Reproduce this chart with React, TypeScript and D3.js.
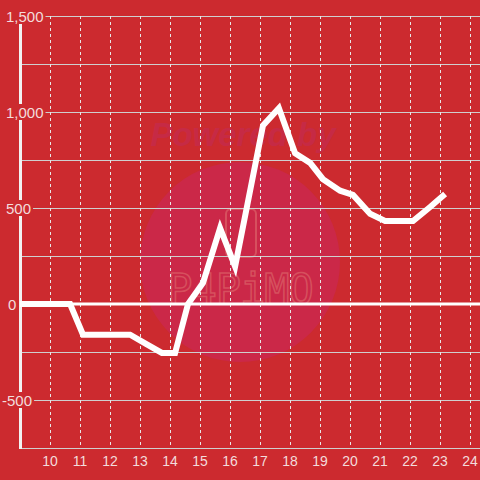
import React from "react";
import * as d3 from "d3";

const xValues = [9, 9.5, 10, 10.67, 11.1, 11.6, 12.1, 12.67, 13.2, 13.73, 14.17, 14.6, 15.1, 15.67, 16.17, 16.67, 17.1, 17.63, 18.17, 18.67, 19.1, 19.67, 20.1, 20.67, 21.17, 21.67, 22.1, 22.67, 23.17];
const yValues = [0, 0, 0, 0, -160, -160, -160, -160, -208, -255, -255, 0, 110, 395, 195, 590, 930, 1020, 785, 735, 650, 590, 568, 470, 432, 432, 432, 505, 573];
const xTicks = [10, 11, 12, 13, 14, 15, 16, 17, 18, 19, 20, 21, 22, 23, 24];
const yGrid = [-750, -500, -250, 0, 250, 500, 750, 1000, 1250, 1500];
const yLabels = [-500, 0, 500, 1000, 1500];

const W = 480;
const H = 480;
const BG = "#cc2a2f";

export default function App() {
  const x = d3.scaleLinear().domain([9, 24.333]).range([20, 480]);
  const y = d3.scaleLinear().domain([-750, 1500]).range([448, 16]);
  const line = d3
    .line<number>()
    .x((_, i) => x(xValues[i]))
    .y((d) => y(d));
  const fmt = d3.format(",");
  const labelX = (v: number) => (v < 0 ? 2 : v === 0 ? 8 : 6);

  return (
    <svg
      width={W}
      height={H}
      style={{ position: "absolute", left: 0, top: 0, display: "block" }}
      fontFamily="'Liberation Sans', Arial, sans-serif"
    >
      <rect x={0} y={0} width={W} height={H} fill={BG} />
      {/* watermark */}
      <g>
        <circle cx={240} cy={262} r={100} fill="#cb2848" />
        <text x={243} y={146} textAnchor="middle" fontSize={33} fontWeight="bold" fontStyle="italic" fill="#c62a45">
          Powered by
        </text>
        <rect x={226} y={209} width={30} height={48} rx={5} fill="none" stroke="#d6505e" strokeWidth={2} />
        <text x={240} y={304} textAnchor="middle" fontSize={42} fontFamily="'DejaVu Sans Mono', monospace" fill="none" stroke="#d6505e" strokeWidth={1.5} letterSpacing={-1}>
          P4PiMO
        </text>
      </g>
      {/* horizontal grid */}
      {yGrid.map((v) => (
        <line key={"h" + v} x1={20} x2={480} y1={Math.round(y(v)) + 0.5} y2={Math.round(y(v)) + 0.5} stroke="#cfcfcf" strokeWidth={1} />
      ))}
      {/* vertical dashed grid */}
      {xTicks.map((t) => (
        <line key={"v" + t} x1={Math.round(x(t)) + 0.5} x2={Math.round(x(t)) + 0.5} y1={16} y2={448} stroke="#e8e8e8" strokeWidth={1} strokeDasharray="3,3" />
      ))}
      {/* zero line */}
      <line x1={20} x2={480} y1={y(0)} y2={y(0)} stroke="#ffffff" strokeWidth={3} />
      {/* y axis */}
      <line x1={20.5} x2={20.5} y1={16} y2={449} stroke="#f2f2f2" strokeWidth={3} />
      {/* data line */}
      <path d={line(yValues) || ""} fill="none" stroke="#ffffff" strokeWidth={6} strokeLinejoin="miter" />
      {/* y labels with background */}
      {yLabels.map((v) => {
        const s = fmt(v).replace("−", "-");
        const w = s.length * 8.34 - (s.includes(",") ? 4.2 : 0) - (s.startsWith("-") ? 3.3 : 0);
        return (
          <g key={"yl" + v}>
            <rect x={labelX(v) - 1} y={y(v) - 8} width={w + 3} height={16} fill={BG} />
            <text x={labelX(v)} y={y(v) + 5.5} fontSize={15} fill="#f3dcdc">
              {s}
            </text>
          </g>
        );
      })}
      {/* x labels */}
      {xTicks.map((t) => (
        <text key={"xl" + t} x={x(t)} y={466} textAnchor="middle" fontSize={14} fill="#f3dcdc">
          {t}
        </text>
      ))}
    </svg>
  );
}
